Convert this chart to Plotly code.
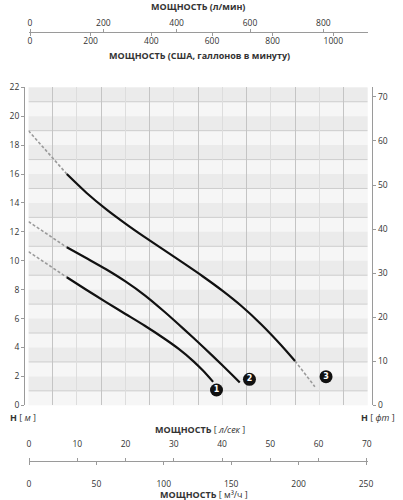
import plotly.graph_objects as go

# ---------------- data ----------------
# curve 1
c1_x = [7.9, 12.0, 16.0, 20.0, 24.0, 28.0, 31.0, 34.0, 36.0, 38.1]
c1_y = [8.86, 7.98, 7.14, 6.32, 5.50, 4.62, 3.90, 3.06, 2.40, 1.62]
c1_dash_x = [0.0, 7.9]
c1_dash_y = [10.63, 8.86]
# curve 2
c2_x = [7.9, 12.0, 16.0, 20.0, 24.0, 28.0, 32.0, 36.0, 40.0, 43.6]
c2_y = [10.93, 10.17, 9.41, 8.57, 7.61, 6.49, 5.29, 4.05, 2.77, 1.58]
c2_dash_x = [0.0, 7.9]
c2_dash_y = [12.71, 10.93]
# curve 3
c3_x = [7.9, 12.0, 16.0, 20.0, 24.0, 28.0, 32.0, 36.0, 40.0, 44.0, 48.0, 52.0, 55.0]
c3_y = [16.0, 14.69, 13.57, 12.57, 11.63, 10.73, 9.83, 8.91, 7.93, 6.85, 5.61, 4.21, 3.07]
c3_dash_x = [0.0, 7.9]
c3_dash_y = [19.0, 16.0]
c3_tail_x = [55.0, 59.1]
c3_tail_y = [3.07, 1.29]
# curve number badges
badge_x = [38.8, 45.6, 61.4]
badge_y = [1.06, 1.80, 1.98]
badge_txt = ["1", "2", "3"]

# axis ticks
h_m_ticks = list(range(0, 23, 2))
h_ft_ticks = list(range(0, 71, 10))
q_ls_ticks = list(range(0, 71, 10))
q_m3h_ticks = list(range(0, 251, 50))
q_lmin_ticks = list(range(0, 801, 200))
q_gpm_ticks = list(range(0, 1001, 200))

# ---------------- geometry ----------------
W, H = 403, 500
PX_L, PX_R = 28.5, 367.7
PY_T, PY_B = 87.3, 405.3
FONT = "Open Sans"
TXT = "#333333"
AX = "#9a9a9a"


def px(x):
    return x / W


def py(y):
    return 1 - y / H


fig = go.Figure()

dash_style = dict(color="#9a9a9a", width=1.6, dash="3px,2px")
solid_style = dict(color="#111111", width=2.2, shape="spline", smoothing=0.8)
for dx, dy in [(c1_dash_x, c1_dash_y), (c2_dash_x, c2_dash_y), (c3_dash_x, c3_dash_y), (c3_tail_x, c3_tail_y)]:
    fig.add_trace(go.Scatter(x=dx, y=dy, mode="lines", line=dash_style, showlegend=False, hoverinfo="skip"))
for sx, sy in [(c1_x, c1_y), (c2_x, c2_y), (c3_x, c3_y)]:
    fig.add_trace(go.Scatter(x=sx, y=sy, mode="lines", line=solid_style, showlegend=False, hoverinfo="skip"))

fig.add_trace(go.Scatter(
    x=badge_x, y=badge_y, mode="markers+text", text=badge_txt,
    marker=dict(size=13, color="#111111"),
    textfont=dict(family="DejaVu Sans", size=8, color="white", weight="bold"),
    textposition="middle center", showlegend=False, hoverinfo="skip"))

# invisible traces to materialise the secondary axes
for xa, ya in [("x2", "y"), ("x3", "y"), ("x4", "y"), ("x5", "y"), ("x", "y2")]:
    fig.add_trace(go.Scatter(x=[None], y=[None], xaxis=xa, yaxis=ya, showlegend=False, hoverinfo="skip"))

# background bands and odd-metre lines
shapes = []
for k in range(1, 22, 2):
    shapes.append(dict(type="rect", xref="x", yref="y", x0=0, x1=70, y0=k, y1=k + 1,
                       fillcolor="#ebebeb", line=dict(width=0), layer="below"))
for k in range(1, 22, 2):
    shapes.append(dict(type="line", xref="x", yref="y", x0=0, x1=70, y0=k, y1=k,
                       line=dict(color="#cdcdcd", width=1), layer="below"))

tickfont = dict(family=FONT, size=8.5, color=TXT)


# ranges of secondary x axes derived from the pixel positions of their labels
def rng(zero_px, px_per_unit):
    return [(PX_L - zero_px) / px_per_unit, (PX_R - zero_px) / px_per_unit]


common = dict(automargin=False, zeroline=False, showgrid=False, tickfont=tickfont,
              ticks="outside", ticklen=3, tickcolor=AX)

fig.update_layout(
    width=W, height=H, margin=dict(l=0, r=0, t=0, b=0, autoexpand=False),
    paper_bgcolor="white", plot_bgcolor="#f6f6f6",
    font=dict(family=FONT, color=TXT),
    shapes=shapes,
    xaxis=dict(domain=[px(PX_L), px(PX_R)], range=[0, 70], showticklabels=False, ticks="",
               showline=False, zeroline=False, showgrid=True, tick0=5, dtick=10,
               gridcolor="#c4c4c4", gridwidth=1, automargin=False,
               minor=dict(tick0=0, dtick=5, showgrid=True, gridcolor="#dddddd", gridwidth=1)),
    yaxis=dict(domain=[py(PY_B), py(PY_T)], range=[0, 22], anchor="free", position=px(24),
               tickvals=h_m_ticks, showline=True, linecolor=AX, linewidth=1, **common),
    yaxis2=dict(overlaying="y", side="right", anchor="free", position=px(372.3),
                range=[0, 22 * 3.28084], tickvals=h_ft_ticks, showline=True, linecolor=AX,
                **common),
    xaxis2=dict(overlaying="x", anchor="free", position=py(32), side="top",
                range=rng(30, 73.333 / 200), tickvals=q_lmin_ticks, showline=True, linecolor=AX,
                ticklabelstandoff=0, **common),
    xaxis3=dict(overlaying="x", anchor="free", position=py(32), side="bottom",
                range=rng(30, 60.667 / 200), tickvals=q_gpm_ticks, showline=False,
                ticklabelstandoff=-2, **common),
    xaxis4=dict(overlaying="x", anchor="free", position=py(461), side="top",
                range=rng(29, 48.25 / 10), tickvals=q_ls_ticks, showline=True, linecolor=AX,
                ticklabelstandoff=8, **common),
    xaxis5=dict(overlaying="x", anchor="free", position=py(461), side="bottom",
                range=rng(29, 67.4 / 50), tickvals=q_m3h_ticks, showline=False,
                ticklabelstandoff=12, **common),
)

ann_font = dict(family=FONT, size=9, color=TXT)
annotations = [
    ("<b>МОЩНОСТЬ (л/мин)</b>", 198, 6.5),
    ("<b>МОЩНОСТЬ (США, галлонов в минуту)</b>", 199, 56),
    ("<b>МОЩНОСТЬ</b> [ <i>л/сек</i> ]", 200, 429),
    ("<b>МОЩНОСТЬ</b> [ м³/ч ]", 204, 494),
    ("<b>H</b> [ <i>м</i> ]", 23, 417.5),
    ("<b>H</b> [ <i>фm</i> ]", 378, 417.5),
]
for t, x, y in annotations:
    fig.add_annotation(text=t, x=px(x), y=py(y), xref="paper", yref="paper",
                       xanchor="center", yanchor="middle", showarrow=False, font=ann_font)

fig.write_html("out.html", config={"displayModeBar": False},
               post_script="document.body.style.margin='0';document.body.style.padding='0';")
